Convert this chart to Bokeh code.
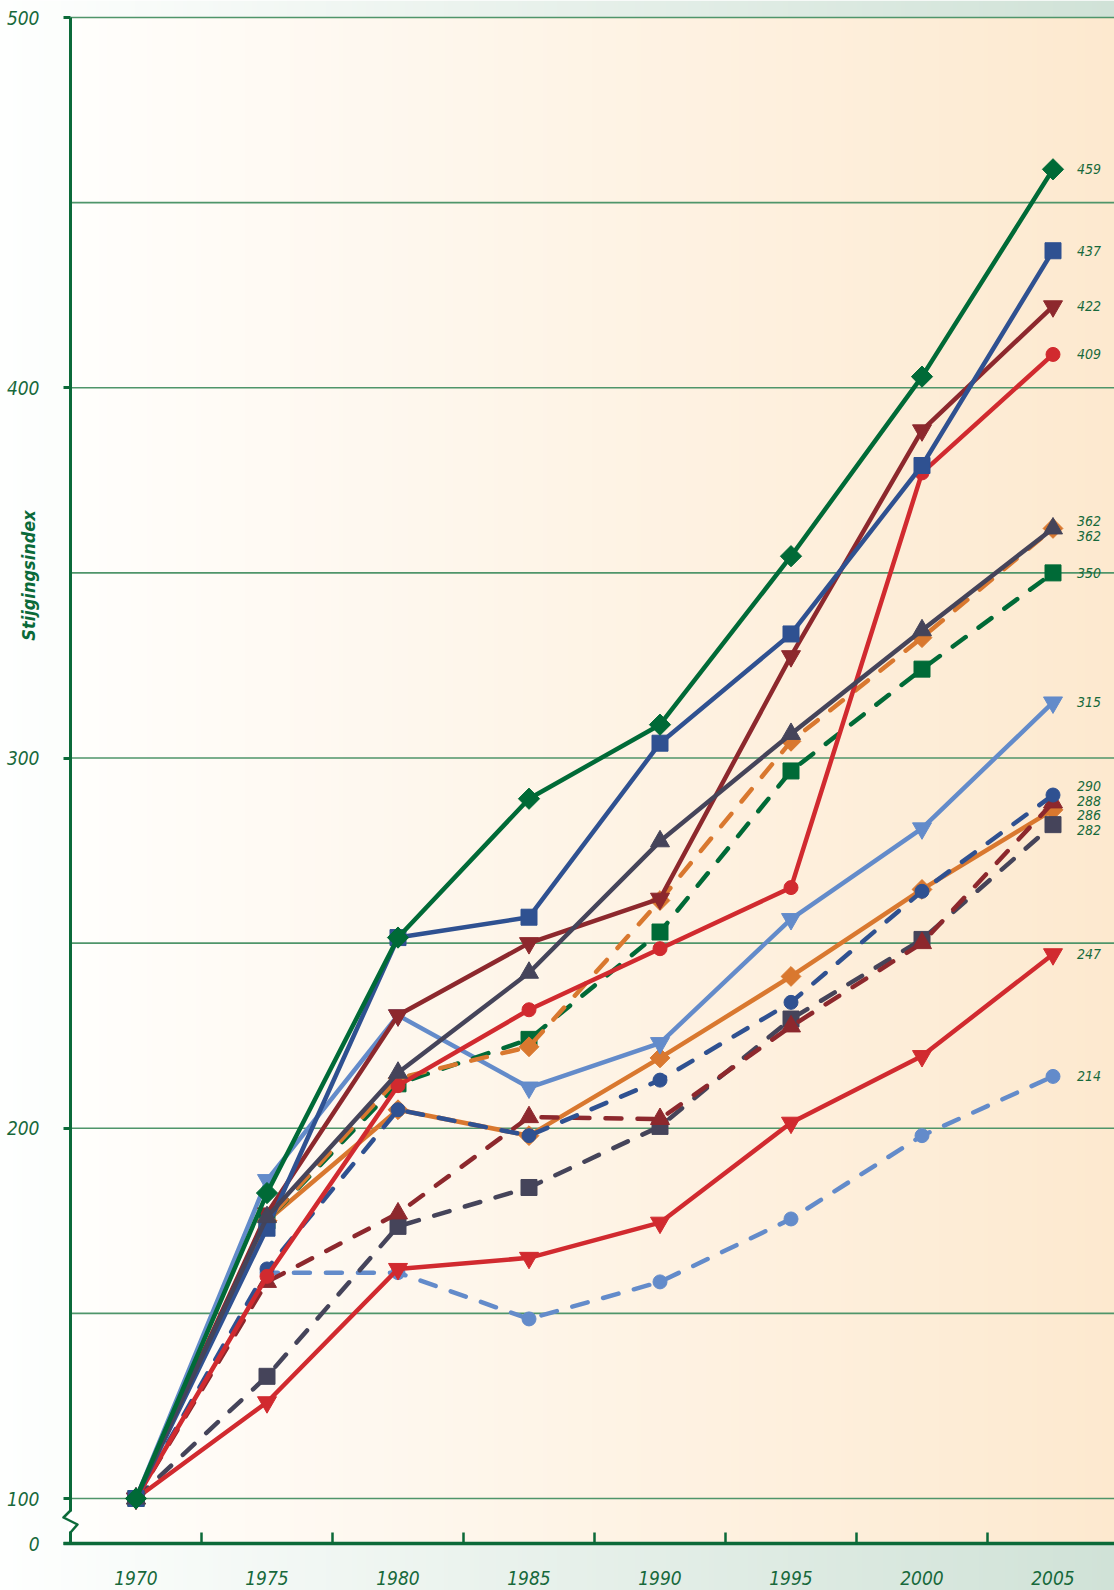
import numpy as np
from bokeh.plotting import figure
from bokeh.models import FixedTicker, Label
from bokeh.core.properties import value
from bokeh.embed import file_html
from bokeh.resources import INLINE

# ---------------- data ----------------
years = ["1970", "1975", "1980", "1985", "1990", "1995", "2000", "2005"]

green_solid_diamond = [100, 182.5, 251.5, 289, 309, 354.5, 403, 459]
blue_solid_square = [100, 173, 251.5, 257, 304, 333.5, 379, 437]
darkred_solid_down = [100, 177, 230.5, 250, 262, 327.5, 388.5, 422]
red_solid_circle = [100, 160, 211.5, 232, 248.5, 265, 377, 409]
gray_solid_up = [100, 176, 215, 242, 277.5, 306.5, 334.5, 362]
orange_dashed_diamond = [100, 175, 213.5, 222, 261.5, 304.5, 332.5, 362]
green_dashed_square = [100, 175, 212, 224, 253, 296.5, 324, 350]
lightblue_solid_down = [100, 186, 230.5, 211, 223, 256.5, 281, 315]
blue_dashed_circle = [100, 162, 205, 198, 213, 234, 264, 290]
darkred_dashed_up = [100, 158.5, 177, 203, 202.5, 227.5, 250, 288]
orange_solid_diamond = [100, 175, 205, 198, 219, 241, 264.5, 286]
gray_dashed_square = [100, 133, 173.5, 184, 200.5, 229.5, 251, 282]
red_solid_down = [100, 126, 162, 165, 174.5, 201.5, 219.5, 247]
lightblue_dashed_circle = [100, 161, 161, 148.5, 158.5, 175.5, 198, 214]

end_labels = [459, 437, 422, 409, 362, 362, 350, 315, 290, 288, 286, 282, 247, 214]

y_tick_values = [100, 200, 300, 400, 500]
y_grid_values = [100, 150, 200, 250, 300, 350, 400, 450, 500]

# ---------------- layout (pixels) ----------------
W, H = 1114, 1590
AX_LEFT, AX_TOP, AX_BOTTOM = 70, 17, 1543       # frame of the drawing area in px
XPX = 131.0                                       # px per category step
YPX = (1498 - 17) / 400.0                         # px per index point
y_top = 500
y_floor = y_top - (AX_BOTTOM - AX_TOP) / YPX      # value at broken baseline ("0")
x_lo = -0.5 - AX_LEFT / XPX
x_hi = -0.5 + (W - AX_LEFT) / XPX
y_hi = y_top + AX_TOP / YPX
y_lo = y_top - (H - AX_TOP) / YPX

# ---------------- styles ----------------
C_GREEN = "#006a37"
C_BLUE = "#2f5191"
C_DARKRED = "#8d282d"
C_RED = "#d12a2f"
C_GRAY = "#45445a"
C_ORANGE = "#d9782f"
C_LBLUE = "#638bca"
TXT = "#17693b"
AXIS = "#0b6a39"
FONT = "DejaVu Sans Condensed, Roboto, sans-serif"
DASH = "16 16"
LW = 4.5

# drawn bottom-first: (values, colour, dash, marker, size, angle)
R45 = np.pi / 4
series = [
    (orange_solid_diamond, C_ORANGE, "solid", "square", 14, R45),
    (lightblue_dashed_circle, C_LBLUE, DASH, "circle", 14, 0),
    (gray_dashed_square, C_GRAY, DASH, "square", 16, 0),
    (darkred_dashed_up, C_DARKRED, DASH, "triangle", 19, 0),
    (blue_dashed_circle, C_BLUE, DASH, "circle", 14, 0),
    (red_solid_down, C_RED, "solid", "inverted_triangle", 19, 0),
    (lightblue_solid_down, C_LBLUE, "solid", "inverted_triangle", 19, 0),
    (green_dashed_square, C_GREEN, DASH, "square", 16, 0),
    (orange_dashed_diamond, C_ORANGE, DASH, "square", 14, R45),
    (red_solid_circle, C_RED, "solid", "circle", 14, 0),
    (darkred_solid_down, C_DARKRED, "solid", "inverted_triangle", 19, 0),
    (blue_solid_square, C_BLUE, "solid", "square", 16, 0),
    (gray_solid_up, C_GRAY, "solid", "triangle", 19, 0),
    (green_solid_diamond, C_GREEN, "solid", "square", 15, R45),
]

xs = list(range(len(years)))

p = figure(width=W, height=H, x_range=(x_lo, x_hi), y_range=(y_lo, y_hi),
           output_backend="svg", toolbar_location=None,
           min_border_left=0, min_border_top=0, min_border_bottom=0, min_border_right=0)
p.outline_line_color = None
p.border_fill_color = "white"
p.background_fill_color = "white"
p.xgrid.visible = False
p.ygrid.visible = False


def gradient(c0, c1, n=256):
    t = np.linspace(0, 1, n)[None, :]
    img = np.empty((1, n), dtype=np.uint32)
    v = img.view(dtype=np.uint8).reshape((1, n, 4))
    for k in range(3):
        v[:, :, k] = np.round(c0[k] + (c1[k] - c0[k]) * t).astype(np.uint8)
    v[:, :, 3] = 255
    return img


# outer band (white -> pale green) and plot area (white -> peach)
p.image_rgba(image=[gradient((254, 255, 254), (208, 226, 215))], x=x_lo, y=y_lo,
             dw=x_hi - x_lo, dh=y_hi - y_lo, level="image")
p.image_rgba(image=[gradient((255, 254, 252), (253, 233, 207))], x=-0.5, y=y_floor,
             dw=x_hi + 0.5, dh=y_top - y_floor, level="image")

# grid lines inside the plot area
p.segment(x0=-0.5, x1=x_hi, y0=y_grid_values, y1=y_grid_values,
          line_color="#4f956a", line_width=1.7, level="underlay")

# y axis (fixed at the left edge of plot area)
p.yaxis.fixed_location = -0.5
p.yaxis.bounds = (y_floor, y_top)
p.yaxis.ticker = FixedTicker(ticks=[y_floor] + y_tick_values, minor_ticks=[])
overrides = {y_floor: "0"}
overrides.update({v: str(v) for v in y_tick_values})
p.yaxis.major_label_overrides = overrides
p.yaxis.axis_line_width = 3
p.yaxis.axis_line_color = AXIS
p.yaxis.major_tick_line_color = AXIS
p.yaxis.major_tick_line_width = 3
p.yaxis.major_tick_out = 7
p.yaxis.major_tick_in = 0
p.yaxis.minor_tick_line_color = None
p.yaxis.major_label_standoff = 24
p.yaxis.major_label_text_font = FONT
p.yaxis.major_label_text_font_style = "italic"
p.yaxis.major_label_text_font_size = "19px"
p.yaxis.major_label_text_color = TXT

# x axis (fixed at the broken baseline)
p.xaxis.fixed_location = y_floor
p.xaxis.bounds = (-0.5 - 7 / XPX, x_hi)
p.xaxis.ticker = FixedTicker(ticks=xs, minor_ticks=[i + 0.5 for i in xs[:-1]])
p.xaxis.major_label_overrides = {i: y for i, y in zip(xs, years)}
p.xaxis.axis_line_width = 3.5
p.xaxis.axis_line_color = AXIS
p.xaxis.major_tick_line_color = None
p.xaxis.minor_tick_line_color = AXIS
p.xaxis.minor_tick_line_width = 2.5
p.xaxis.minor_tick_in = 11
p.xaxis.minor_tick_out = 0
p.xaxis.major_label_standoff = 21
p.xaxis.major_label_text_font = FONT
p.xaxis.major_label_text_font_style = "italic"
p.xaxis.major_label_text_font_size = "19px"
p.xaxis.major_label_text_color = TXT

# axis break zigzag (white gap in the axis, then the zigzag)
p.segment(x0=[-0.5], x1=[-0.5], y0=[100 - 13 / YPX], y1=[100 - 33 / YPX],
          line_color="white", line_width=5, level="overlay")
zx = [-0.5, -0.5 - 7 / XPX, -0.5 + 7 / XPX, -0.5]
zy = [100 - 12 / YPX, 100 - 19 / YPX, 100 - 26 / YPX, 100 - 34 / YPX]
p.line(zx, zy, line_color=AXIS, line_width=2.5, line_join="round", level="overlay")

# series
for vals, col, dash, marker, size, ang in series:
    p.line(xs, vals, line_color=col, line_width=LW, line_dash=dash,
           line_cap="round", line_join="round")
    p.scatter(xs, vals, marker=marker, size=size, angle=ang,
              fill_color=col, line_color=col)

# end labels with simple spreading
gap = 4.0
order = sorted(range(len(end_labels)), key=lambda i: -end_labels[i])
vals_sorted = [float(end_labels[i]) for i in order]
groups = [[v] for v in vals_sorted]
changed = True
pos_groups = []
while changed:
    changed = False
    placed = []
    for g in groups:
        m = sum(g) / len(g)
        top = m + gap * (len(g) - 1) / 2
        placed.append([top - gap * k for k in range(len(g))])
    for gi in range(len(groups) - 1):
        if placed[gi][-1] - placed[gi + 1][0] < gap - 1e-9:
            groups[gi] = groups[gi] + groups[gi + 1]
            del groups[gi + 1]
            changed = True
            break
    pos_groups = placed
label_y_sorted = [y for g in pos_groups for y in g]
p.text(x=[xs[-1]] * len(label_y_sorted), y=label_y_sorted,
       text=[str(int(v)) for v in vals_sorted], x_offset=24,
       text_baseline="middle", text_align="left",
       text_font=value(FONT), text_font_style="italic", text_font_size="14px",
       text_color=TXT)

# y title
p.add_layout(Label(x=-0.5 - 42 / XPX, y=y_top - (575 - AX_TOP) / YPX, text="Stijgingsindex",
                   angle=np.pi / 2, text_align="center", text_baseline="middle",
                   text_font=FONT, text_font_style="bold italic",
                   text_font_size="18px", text_color=AXIS))

open("out.html", "w").write(file_html(p, INLINE))
